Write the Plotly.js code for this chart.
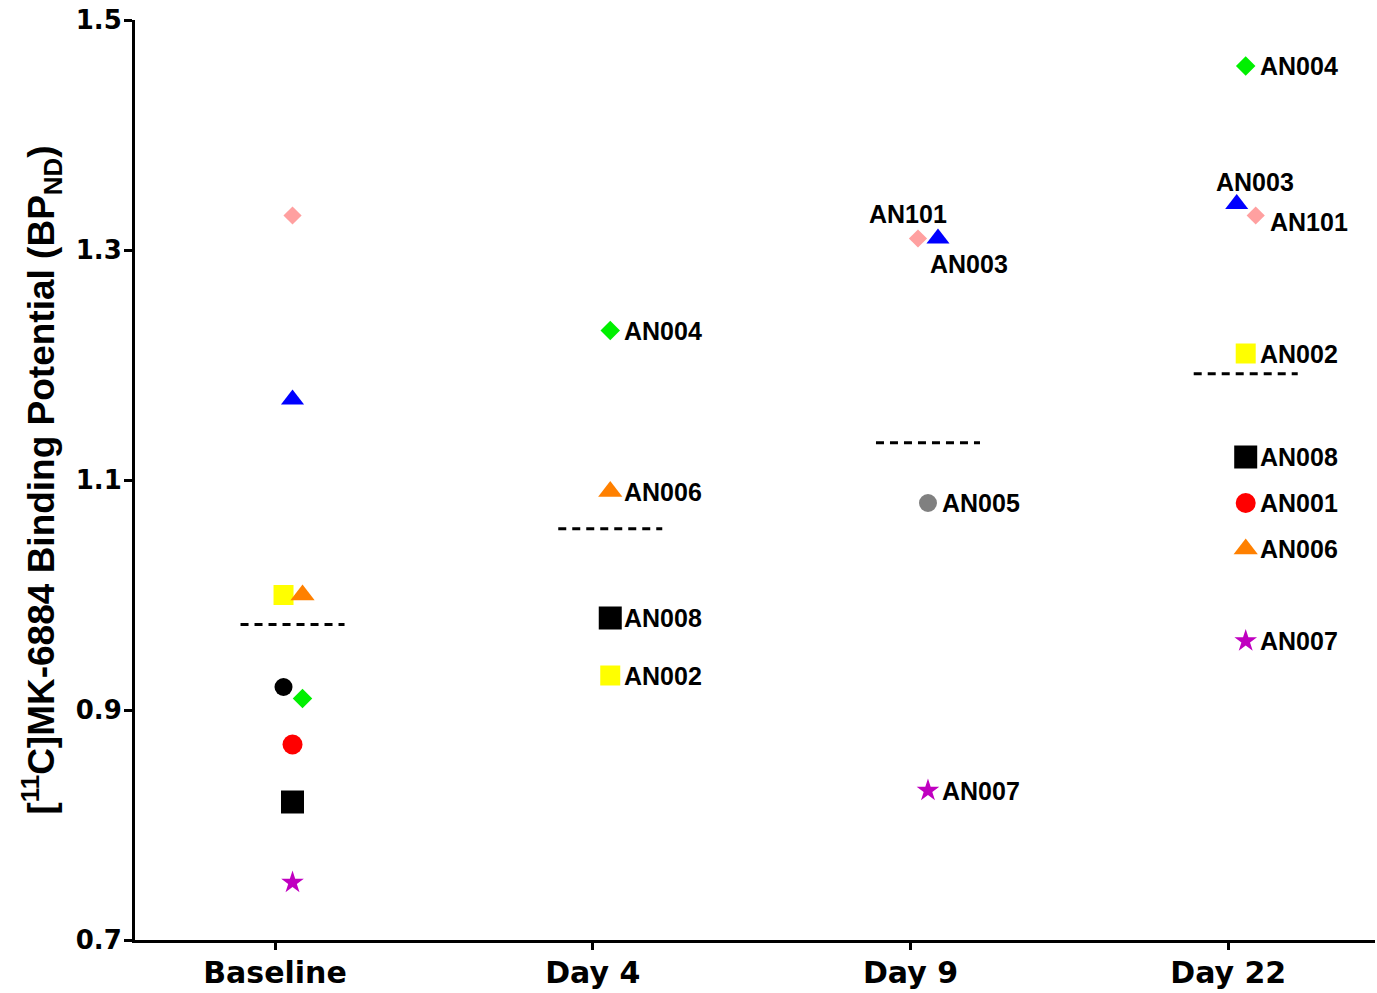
<!DOCTYPE html>
<html>
<head>
<meta charset="utf-8">
<script src="https://cdn.plot.ly/plotly-3.0.1.min.js"></script>
<style>
html,body{margin:0;padding:0;background:#fff;}
#chart{width:1377px;height:993px;}
</style>
</head>
<body>
<div id="chart"></div>
<script>
// ---------------- DATA ----------------
const timepoints = ['Baseline', 'Day 4', 'Day 9', 'Day 22'];

const baselineSubjects = ['AN101', 'AN003', 'AN002', 'AN006', 'AN005', 'AN004', 'AN001', 'AN008', 'AN007'];
const baselineValues   = [1.33, 1.17, 1.00, 1.00, 0.92, 0.91, 0.87, 0.82, 0.75];

const day4Subjects = ['AN004', 'AN006', 'AN008', 'AN002'];
const day4Values   = [1.23, 1.09, 0.98, 0.93];

const day9Subjects = ['AN101', 'AN003', 'AN005', 'AN007'];
const day9Values   = [1.31, 1.31, 1.08, 0.83];

const day22Subjects = ['AN004', 'AN003', 'AN101', 'AN002', 'AN008', 'AN001', 'AN006', 'AN007'];
const day22Values   = [1.46, 1.34, 1.33, 1.21, 1.12, 1.08, 1.04, 0.96];

const yTickVals = [0.7, 0.9, 1.1, 1.3, 1.5];
const yTickText = ['0.7', '0.9', '1.1', '1.3', '1.5'];

// ---------------- STYLES / POSITIONS ----------------
const subjectStyle = {
  AN001: {symbol: 'circle',        color: '#FF0000', size: 20},
  AN002: {symbol: 'square',        color: '#FFFF00', size: 20},
  AN003: {symbol: 'triangle-up',   color: '#0000FF', size: 20},
  AN004: {symbol: 'diamond',       color: '#00F000', size: 15},
  AN005: {symbol: 'circle',        color: '#808080', size: 18},
  AN006: {symbol: 'triangle-up',   color: '#FF8000', size: 21},
  AN007: {symbol: 'star',          color: '#C000C0', size: 17},
  AN008: {symbol: 'square',        color: '#000000', size: 23},
  AN101: {symbol: 'diamond',       color: '#FFA0A0', size: 14}
};
const colorOverride = {'Baseline|AN005': '#000000'};

const PX = 317.7;              // pixels per category step
const centerShift = 17.5 / PX; // marker column offset from tick
const halfMean = 52 / PX;

// jitter in pixels (horizontal marker placement)
const jitterPx = {
  'Baseline': {AN101: 0, AN003: 0, AN002: -9, AN006: 10, AN005: -9, AN004: 10, AN001: 0, AN008: 0, AN007: 0},
  'Day 4': {},
  'Day 9': {AN101: -10, AN003: 10},
  'Day 22': {AN003: -9, AN101: 10}
};
// label placement: [xanchor, xshift, yshift]
const labelPlace = {
  'Day 9|AN101': ['center', -10, 25],
  'Day 9|AN003': ['left', -10, -25],
  'Day 22|AN003': ['center', 18, 22],
  'Day 22|AN101': ['left', 12, -6]
};
const showLabels = {'Baseline': false, 'Day 4': true, 'Day 9': true, 'Day 22': true};

const groups = [
  {tp: 'Baseline', subjects: baselineSubjects, values: baselineValues},
  {tp: 'Day 4', subjects: day4Subjects, values: day4Values},
  {tp: 'Day 9', subjects: day9Subjects, values: day9Values},
  {tp: 'Day 22', subjects: day22Subjects, values: day22Values}
];

const traces = [];
const annotations = [];

groups.forEach((g, gi) => {
  const center = gi + centerShift;
  const mean = g.values.reduce((a, b) => a + b, 0) / g.values.length;
  traces.push({
    type: 'scatter', mode: 'lines',
    x: [center - halfMean, center + halfMean], y: [mean, mean],
    line: {color: '#000', width: 3, dash: '8px,6px'},
    hoverinfo: 'skip', showlegend: false
  });
  const xs = g.subjects.map(s => center + ((jitterPx[g.tp][s] || 0) / PX));
  traces.push({
    type: 'scatter', mode: 'markers',
    x: xs, y: g.values, text: g.subjects,
    marker: {
      symbol: g.subjects.map(s => subjectStyle[s].symbol),
      color: g.subjects.map(s => colorOverride[g.tp + '|' + s] || subjectStyle[s].color),
      size: g.subjects.map(s => subjectStyle[s].size),
      opacity: 1,
      line: {width: 0}
    },
    showlegend: false, cliponaxis: false
  });
  if (showLabels[g.tp]) {
    g.subjects.forEach((s, i) => {
      const p = labelPlace[g.tp + '|' + s] || ['left', 12, 0];
      annotations.push({
        x: xs[i], y: g.values[i], xref: 'x', yref: 'y',
        text: s, showarrow: false,
        xanchor: p[0], yanchor: 'middle', xshift: p[1], yshift: p[2],
        font: {family: 'Liberation Sans, Arial, sans-serif', size: 25, color: '#000', weight: 700}
      });
    });
  }
});

const layout = {
  width: 1377, height: 993,
  margin: {l: 135, r: 2, t: 20, b: 53},
  paper_bgcolor: '#fff', plot_bgcolor: '#fff',
  showlegend: false,
  xaxis: {
    range: [-0.4407, 3.462],
    tickvals: timepoints.map((t, i) => i),
    ticktext: timepoints,
    showgrid: false, zeroline: false,
    showline: true, linecolor: '#000', linewidth: 3,
    ticks: 'outside', ticklen: 7, tickwidth: 3, tickcolor: '#000',
    ticklabelstandoff: -3,
    tickfont: {family: 'DejaVu Sans, sans-serif', size: 30, color: '#000', weight: 700}
  },
  yaxis: {
    range: [0.7, 1.5],
    tickvals: yTickVals, ticktext: yTickText,
    showgrid: false, zeroline: false,
    showline: true, linecolor: '#000', linewidth: 3,
    ticks: 'outside', ticklen: 8, tickwidth: 3, tickcolor: '#000',
    ticklabelstandoff: -3,
    tickfont: {family: 'DejaVu Sans, sans-serif', size: 26, color: '#000', weight: 700},
    title: {
      text: '[<sup>11</sup>C]MK-6884 Binding Potential (BP<sub>ND</sub>)',
      font: {family: 'Liberation Sans, Arial, sans-serif', size: 37, color: '#000', weight: 700},
      standoff: 10
    }
  },
  annotations: annotations
};

Plotly.newPlot('chart', traces, layout, {displayModeBar: false, staticPlot: true});
</script>
</body>
</html>
